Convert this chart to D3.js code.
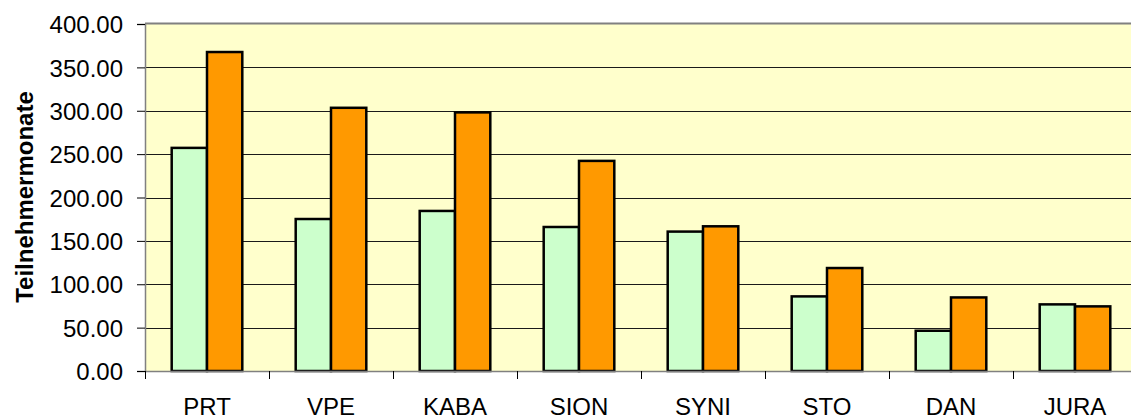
<!DOCTYPE html>
<html>
<head>
<meta charset="utf-8">
<script src="https://cdn.jsdelivr.net/npm/d3@7"></script>
<style>
  body { margin: 0; background: #fff; }
  svg { display: block; }
  text { font-family: Arial, "Liberation Sans", sans-serif; fill: #000; }
</style>
</head>
<body>
<svg id="chart"></svg>
<script>
// values
var categories = ["PRT", "VPE", "KABA", "SION", "SYNI", "STO", "DAN", "JURA"];
var seriesGreen = [257.2, 175.2, 184.5, 166.0, 160.7, 86.0, 46.4, 76.8];
var seriesOrange = [367.7, 303.4, 298.1, 242.2, 166.8, 118.7, 84.8, 74.5];
var yTicks = [0, 50, 100, 150, 200, 250, 300, 350, 400];

var W = 1131, H = 418;
// plot area runs past the right edge of the window, like the reference
var margin = { top: 24, left: 145, bottom: 47 };
var plotW = 8 * 124;
var plotH = H - margin.top - margin.bottom;

var svg = d3.select("#chart").attr("width", W).attr("height", H);

var x = d3.scaleBand().domain(categories).range([margin.left, margin.left + plotW]);
var y = d3.scaleLinear().domain([0, 400]).range([margin.top + plotH, margin.top]);

// plot background
svg.append("rect")
    .attr("x", margin.left).attr("y", margin.top)
    .attr("width", plotW).attr("height", plotH)
    .attr("fill", "#FFFFCC");

// gridlines
svg.append("g")
    .selectAll("line")
    .data(yTicks.filter(d => d > 0 && d < 400))
    .enter().append("line")
    .attr("x1", margin.left).attr("x2", margin.left + plotW)
    .attr("y1", d => Math.round(y(d)) + 0.5).attr("y2", d => Math.round(y(d)) + 0.5)
    .attr("stroke", "#1a1a1a").attr("stroke-width", 1);

// top border
svg.append("line")
    .attr("x1", margin.left).attr("x2", margin.left + plotW)
    .attr("y1", margin.top - 0.5).attr("y2", margin.top - 0.5)
    .attr("stroke", "#808080").attr("stroke-width", 2);

// bars
var groupW = 70.6;
var barW = groupW / 2;
var pad = (x.bandwidth() - groupW) / 2;
var data = categories.map((c, i) => ({ c: c, g: seriesGreen[i], o: seriesOrange[i] }));

var bars = svg.append("g");
bars.selectAll("rect.g")
    .data(data).enter().append("rect")
    .attr("class", "g")
    .attr("x", d => x(d.c) + pad)
    .attr("y", d => y(d.g))
    .attr("width", barW)
    .attr("height", d => y(0) - y(d.g))
    .attr("fill", "#CCFFCC").attr("stroke", "#000").attr("stroke-width", 2.5);
bars.selectAll("rect.o")
    .data(data).enter().append("rect")
    .attr("class", "o")
    .attr("x", d => x(d.c) + pad + barW)
    .attr("y", d => y(d.o))
    .attr("width", barW)
    .attr("height", d => y(0) - y(d.o))
    .attr("fill", "#FF9900").attr("stroke", "#000").attr("stroke-width", 2.5);

// y axis
var yAxis = d3.axisLeft(y).tickValues(yTicks).tickSize(8).tickPadding(14)
    .tickFormat(d3.format(".2f"));
var gY = svg.append("g")
    .attr("transform", "translate(" + margin.left + ",0)")
    .call(yAxis);
gY.select(".domain").attr("stroke", "#808080").attr("stroke-width", 1.5);
gY.selectAll(".tick line").attr("stroke", "#000");
gY.selectAll(".tick text").style("font-size", "24px").attr("dy", "0.36em");

// x axis
var xAxis = d3.axisBottom(x).tickSize(0).tickPadding(27);
var gX = svg.append("g")
    .attr("transform", "translate(0," + (margin.top + plotH) + ")")
    .call(xAxis);
gX.select(".domain").attr("stroke", "#808080").attr("stroke-width", 1.5);
gX.selectAll(".tick text").style("font-size", "24px").attr("dy", "0.71em");

// category separator ticks
svg.append("g")
    .selectAll("line")
    .data(categories)
    .enter().append("line")
    .attr("x1", d => x(d) + 0.5).attr("x2", d => x(d) + 0.5)
    .attr("y1", margin.top + plotH).attr("y2", margin.top + plotH + 8)
    .attr("stroke", "#000");

// y axis title
svg.append("text")
    .attr("transform", "translate(33,197) rotate(-90)")
    .attr("text-anchor", "middle")
    .style("font-size", "24px")
    .style("font-weight", "bold")
    .text("Teilnehmermonate");
</script>
</body>
</html>
